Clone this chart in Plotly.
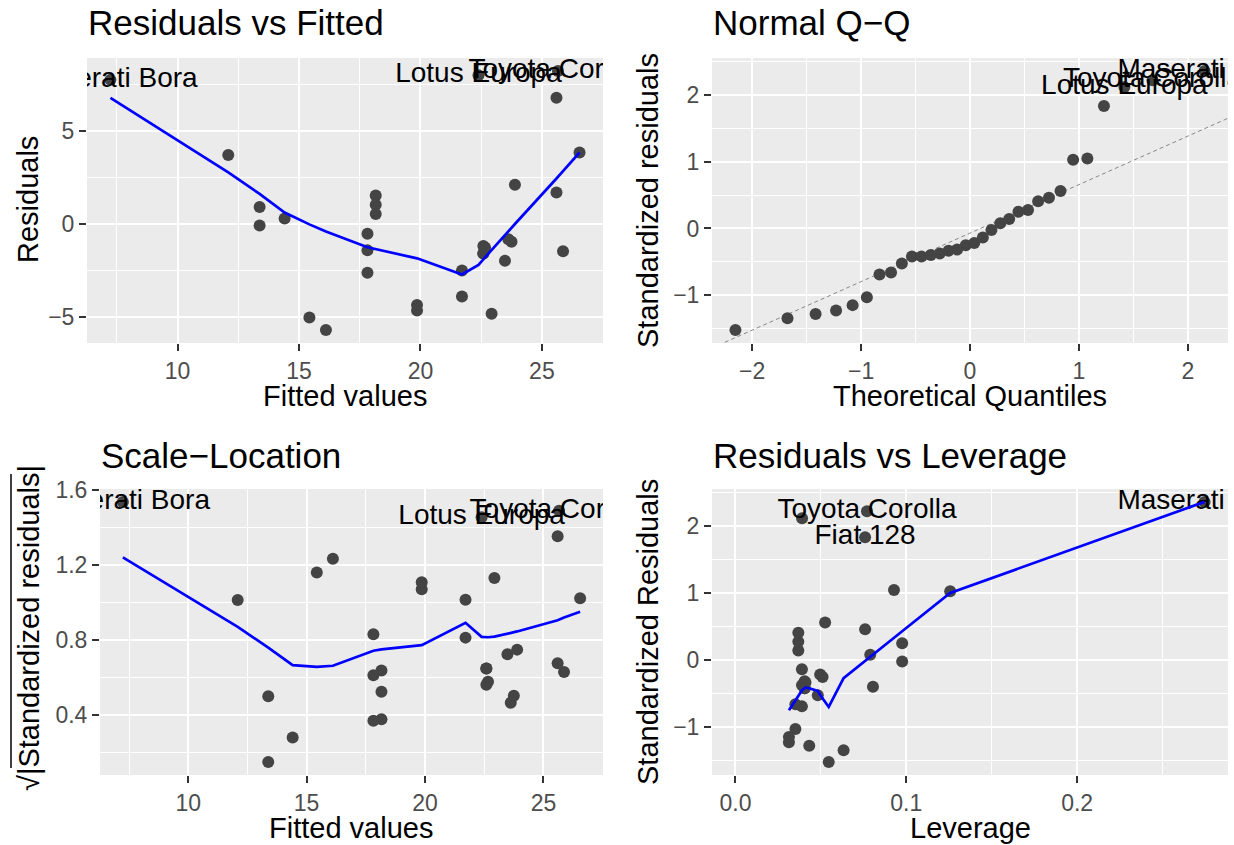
import plotly.graph_objects as go

# ---------------- data (lm(mpg ~ hp, data = mtcars) diagnostics) ----------------
cars = ["Mazda RX4", "Mazda RX4 Wag", "Datsun 710", "Hornet 4 Drive", "Hornet Sportabout",
        "Valiant", "Duster 360", "Merc 240D", "Merc 230", "Merc 280", "Merc 280C",
        "Merc 450SE", "Merc 450SL", "Merc 450SLC", "Cadillac Fleetwood", "Lincoln Continental",
        "Chrysler Imperial", "Fiat 128", "Honda Civic", "Toyota Corolla", "Toyota Corona",
        "Dodge Challenger", "AMC Javelin", "Camaro Z28", "Pontiac Firebird", "Fiat X1-9",
        "Porsche 914-2", "Lotus Europa", "Ford Pantera L", "Ferrari Dino", "Maserati Bora",
        "Volvo 142E"]

fitted = [22.59, 22.59, 23.75, 22.59, 18.16, 22.93, 13.38, 25.87, 23.62, 21.71, 21.71,
          17.82, 17.82, 17.82, 16.11, 15.43, 14.41, 25.60, 26.55, 25.66, 23.48, 19.86,
          19.86, 13.38, 18.16, 25.60, 23.89, 22.39, 12.09, 18.16, 7.24, 22.66]

residuals = [-1.59, -1.59, -0.95, -1.19, 0.54, -4.83, 0.92, -1.47, -0.82, -2.51, -3.91,
             -1.42, -0.52, -2.62, -5.71, -5.03, 0.29, 6.80, 3.85, 8.24, -1.98, -4.36,
             -4.66, -0.08, 1.04, 1.70, 2.11, 8.01, 3.71, 1.54, 7.76, -1.26]

std_resid = [-0.421, -0.421, -0.253, -0.316, 0.143, -1.280, 0.250, -0.397, -0.217, -0.661,
             -1.030, -0.374, -0.137, -0.691, -1.521, -1.345, 0.079, 1.832, 1.046, 2.219,
             -0.526, -1.148, -1.227, -0.023, 0.275, 0.459, 0.561, 2.116, 1.028, 0.407,
             2.358, -0.334]

sqrt_abs_std_resid = [0.649, 0.649, 0.503, 0.562, 0.378, 1.131, 0.500, 0.630, 0.466, 0.813,
                      1.015, 0.612, 0.370, 0.831, 1.233, 1.160, 0.281, 1.354, 1.023, 1.490,
                      0.725, 1.071, 1.108, 0.150, 0.524, 0.677, 0.749, 1.455, 1.014, 0.638,
                      1.536, 0.578]

leverage = [0.0405, 0.0405, 0.0510, 0.0405, 0.0368, 0.0432, 0.0976, 0.0805, 0.0496, 0.0351,
            0.0351, 0.0389, 0.0389, 0.0389, 0.0546, 0.0633, 0.0789, 0.0759, 0.0928, 0.0770,
            0.0482, 0.0313, 0.0313, 0.0976, 0.0368, 0.0759, 0.0525, 0.0390, 0.1257, 0.0368,
            0.2746, 0.0410]

theoretical_q = [-0.533, -0.445, -0.039, -0.118, 0.360, -1.418, 0.445, -0.360, 0.039, -0.725,
                 -0.947, -0.278, 0.118, -0.831, -2.154, -1.676, 0.278, 1.230, 1.078, 1.676,
                 -0.626, -1.078, -1.230, 0.197, 0.533, 0.725, 0.831, 1.418, 0.947, 0.626,
                 2.154, -0.197]

qq_intercept = -0.070
qq_slope = 0.726

labels_resid = ["Maserati Bora", "Lotus Europa", "Toyota Corolla"]
labels_leverage = ["Maserati Bora", "Toyota Corolla", "Fiat 128"]

# smoother lines
smooth_fit_x = [7.24, 12.09, 13.38, 14.41, 15.43, 16.11, 17.82, 18.16, 19.86, 21.71, 22.39,
                22.59, 22.66, 22.93, 23.48, 23.62, 23.75, 23.89, 25.60, 25.66, 25.87, 26.55]
smooth_resid_y = [6.79, 2.78, 1.62, 0.62, -0.02, -0.40, -1.25, -1.35, -1.85, -2.72, -2.20,
                  -1.90, -1.80, -1.40, -0.60, -0.40, -0.20, 0.00, 2.45, 2.55, 2.85, 3.85]
smooth_scale_y = [1.241, 0.870, 0.760, 0.666, 0.657, 0.663, 0.743, 0.750, 0.773, 0.892, 0.817,
                  0.815, 0.815, 0.818, 0.833, 0.838, 0.842, 0.846, 0.906, 0.910, 0.920, 0.951]
smooth_lev_x = [0.0313, 0.0351, 0.0368, 0.0389, 0.0390, 0.0405, 0.0410, 0.0432, 0.0482, 0.0496,
                0.0510, 0.0525, 0.0546, 0.0633, 0.0759, 0.0770, 0.0789, 0.0805, 0.0928, 0.0976,
                0.1257, 0.2746]
smooth_lev_y = [-0.75, -0.60, -0.52, -0.45, -0.45, -0.42, -0.41, -0.42, -0.46, -0.52,
                -0.57, -0.63, -0.70, -0.27, -0.01, 0.01, 0.05, 0.08, 0.33, 0.43,
                1.00, 2.36]

# ---------------- style ----------------
W, H = 1234, 845
FONT = "Liberation Sans, Arial, Helvetica, sans-serif"
PT_COL = "#444444"
BLUE = "#0000FF"
TICK_COL = "#4D4D4D"


def px_x(p):
    return p / W


def px_y(p):
    return 1 - p / H


def expand(vals, mult=0.05, include=None):
    lo, hi = min(vals), max(vals)
    if include is not None:
        lo, hi = min(lo, include), max(hi, include)
    span = hi - lo
    return [lo - mult * span, hi + mult * span]


def idx(names):
    return [cars.index(n) for n in names]


fig = go.Figure()

panels = {
    1: dict(x=[87, 603], y=[58, 343]),
    2: dict(x=[712, 1228], y=[58, 343]),
    3: dict(x=[100, 603], y=[489, 775]),
    4: dict(x=[712, 1228], y=[489, 775]),
}


def add_points(k, xs, ys, label_names):
    xa = "x" if k == 1 else f"x{k}"
    ya = "y" if k == 1 else f"y{k}"
    fig.add_trace(go.Scatter(x=xs, y=ys, mode="markers", xaxis=xa, yaxis=ya,
                             marker=dict(color=PT_COL, size=12, line=dict(width=0)),
                             showlegend=False, hoverinfo="skip"))
    ii = idx(label_names)
    fig.add_trace(go.Scatter(x=[xs[i] for i in ii], y=[ys[i] for i in ii], mode="text",
                             text=[cars[i] for i in ii], textposition="middle center",
                             textfont=dict(family=FONT, size=28, color="black"),
                             xaxis=xa, yaxis=ya, showlegend=False, hoverinfo="skip",
                             cliponaxis=True))


def add_line(k, xs, ys, color, width, dash="solid"):
    xa = "x" if k == 1 else f"x{k}"
    ya = "y" if k == 1 else f"y{k}"
    fig.add_trace(go.Scatter(x=xs, y=ys, mode="lines", xaxis=xa, yaxis=ya,
                             line=dict(color=color, width=width, dash=dash),
                             showlegend=False, hoverinfo="skip", cliponaxis=True))


# Panel 1: Residuals vs Fitted
add_points(1, fitted, residuals, labels_resid)
add_line(1, smooth_fit_x, smooth_resid_y, BLUE, 2.7)

# Panel 2: Normal Q-Q
qq_range = expand(theoretical_q)
add_line(2, qq_range, [qq_intercept + qq_slope * v for v in qq_range], "#888888", 1, "4px,3px")
add_points(2, theoretical_q, std_resid, labels_resid)

# Panel 3: Scale-Location
add_points(3, fitted, sqrt_abs_std_resid, labels_resid)
add_line(3, smooth_fit_x, smooth_scale_y, BLUE, 2.7)

# Panel 4: Residuals vs Leverage
add_points(4, leverage, std_resid, labels_leverage)
add_line(4, smooth_lev_x, smooth_lev_y, BLUE, 2.7)

# dashed zero lines
for k in (1, 4):
    xr = "x" if k == 1 else f"x{k}"
    yr = "y" if k == 1 else f"y{k}"
    fig.add_shape(type="line", xref=f"{xr} domain", yref=yr, x0=0, x1=1, y0=0, y1=0,
                  line=dict(color="#888888", width=1, dash="4px,3px"), layer="below")


def axis(k, which, rng, dtick, minor_dtick, fmt=None):
    p = panels[k]
    dom = [px_x(p["x"][0]), px_x(p["x"][1])] if which == "x" else [px_y(p["y"][1]), px_y(p["y"][0])]
    anchor = ("y" if k == 1 else f"y{k}") if which == "x" else ("x" if k == 1 else f"x{k}")
    d = dict(domain=dom, anchor=anchor, range=rng, autorange=False, automargin=False,
             tickmode="linear", tick0=0, dtick=dtick,
             showgrid=True, gridcolor="white", gridwidth=2.1,
             zeroline=False, showline=False,
             ticks="outside", ticklen=7, tickwidth=2, tickcolor="#333333",
             tickfont=dict(family=FONT, size=23, color=TICK_COL),
             minor=dict(tickmode="linear", tick0=0, dtick=minor_dtick, showgrid=True,
                        gridcolor="white", gridwidth=1.1, ticks=""),
             fixedrange=True, layer="below traces")
    if fmt:
        d["tickformat"] = fmt
    return d


layout_axes = {
    "xaxis": axis(1, "x", expand(fitted), 5, 2.5),
    "yaxis": axis(1, "y", expand(residuals), 5, 2.5),
    "xaxis2": axis(2, "x", expand(theoretical_q), 1, 0.5),
    "yaxis2": axis(2, "y", expand(std_resid), 1, 0.5),
    "xaxis3": axis(3, "x", expand(fitted), 5, 2.5),
    "yaxis3": axis(3, "y", expand(sqrt_abs_std_resid), 0.4, 0.2, ".1f"),
    "xaxis4": axis(4, "x", expand(leverage, include=0), 0.1, 0.05, ".1f"),
    "yaxis4": axis(4, "y", expand(std_resid), 1, 0.5),
}

annotations = []


def ann(text, xp, yp, size, xanchor="center", yanchor="middle", angle=0, color="black"):
    annotations.append(dict(text=text, xref="paper", yref="paper", x=px_x(xp), y=px_y(yp),
                            xanchor=xanchor, yanchor=yanchor, showarrow=False, textangle=angle,
                            font=dict(family=FONT, size=size, color=color)))


# panel titles
ann("Residuals vs Fitted", 86, 22, 35, xanchor="left")
ann("Normal Q\u2212Q", 711, 22, 35, xanchor="left")
ann("Scale\u2212Location", 99, 455, 35, xanchor="left")
ann("Residuals vs Leverage", 711, 455, 35, xanchor="left")

# axis titles
ann("Fitted values", 345, 396, 29)
ann("Theoretical Quantiles", 970, 396, 29)
ann("Fitted values", 351, 828, 29)
ann("Leverage", 970, 828, 29)
ann("Residuals", 28, 200, 29, angle=-90)
ann("Standardized residuals", 648, 200, 29, angle=-90)
ann("\u221a|Standardized residuals|", 29, 628, 29, angle=-90)
ann("Standardized Residuals", 648, 632, 29, angle=-90)

# overline of the square-root sign
fig.add_shape(type="line", xref="paper", yref="paper", x0=px_x(11), x1=px_x(11),
              y0=px_y(474), y1=px_y(768), line=dict(color="black", width=1.5))

fig.update_layout(
    template="none",
    width=W, height=H,
    margin=dict(l=0, r=0, t=0, b=0, pad=0, autoexpand=False),
    paper_bgcolor="white",
    plot_bgcolor="#EBEBEB",
    showlegend=False,
    annotations=annotations,
    font=dict(family=FONT),
    **layout_axes,
)

fig.write_html("out.html")
